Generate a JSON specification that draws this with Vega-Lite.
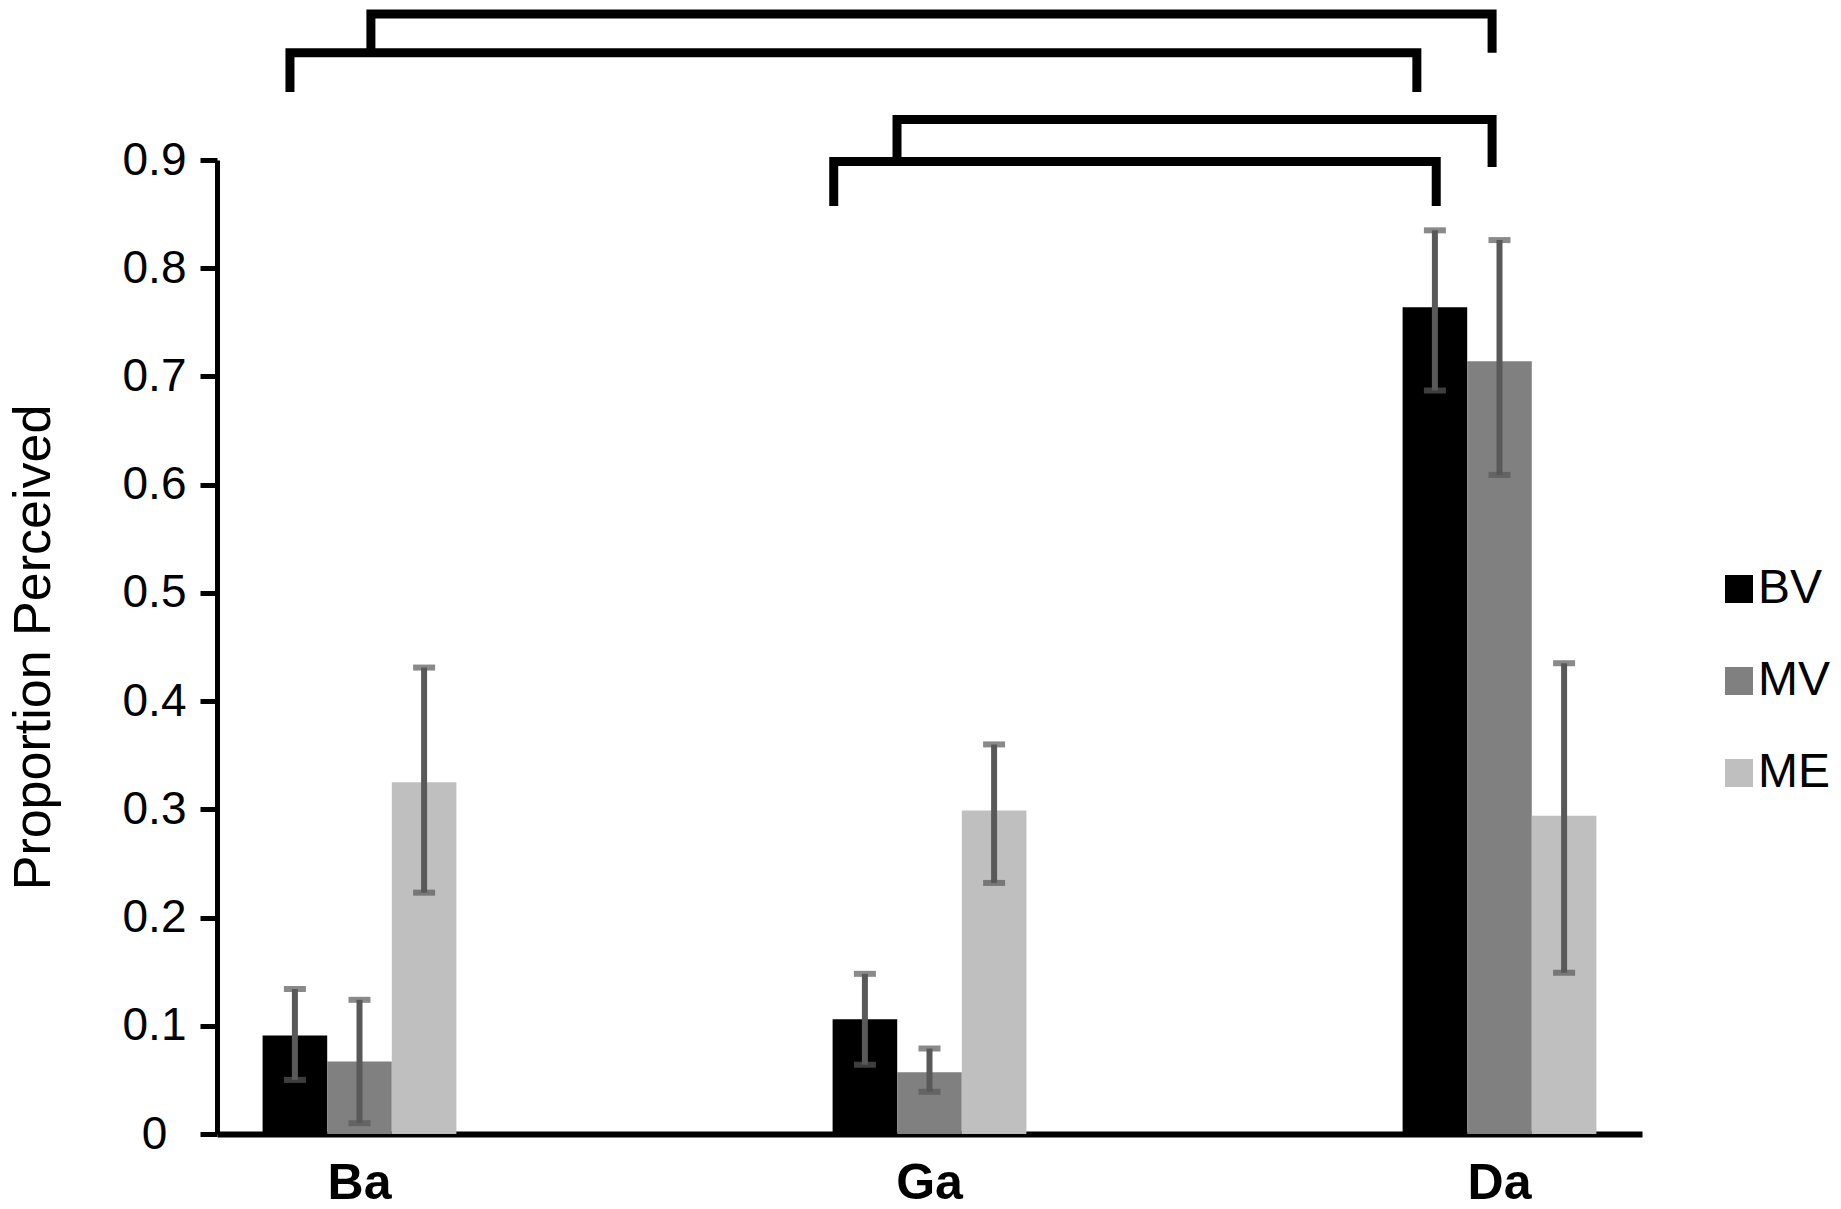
{
  "$schema": "https://vega.github.io/schema/vega-lite/v6.json",
  "width": 1425,
  "height": 974,
  "autosize": {"type": "none"},
  "padding": {"left": 217, "top": 160, "right": 199, "bottom": 75},
  "background": "white",
  "config": {
    "view": {"stroke": null},
    "font": "Liberation Sans",
    "axis": {"grid": false}
  },
  "datasets": {
    "bars": [
      {"cond": "Ba", "series": "BV", "value": 0.091, "lo": 0.050, "hi": 0.134},
      {"cond": "Ba", "series": "MV", "value": 0.067, "lo": 0.010, "hi": 0.124},
      {"cond": "Ba", "series": "ME", "value": 0.325, "lo": 0.223, "hi": 0.431},
      {"cond": "Ga", "series": "BV", "value": 0.106, "lo": 0.064, "hi": 0.148},
      {"cond": "Ga", "series": "MV", "value": 0.057, "lo": 0.039, "hi": 0.079},
      {"cond": "Ga", "series": "ME", "value": 0.299, "lo": 0.232, "hi": 0.360},
      {"cond": "Da", "series": "BV", "value": 0.764, "lo": 0.687, "hi": 0.835},
      {"cond": "Da", "series": "MV", "value": 0.714, "lo": 0.609, "hi": 0.826},
      {"cond": "Da", "series": "ME", "value": 0.294, "lo": 0.149, "hi": 0.435}
    ],
    "brackets": [
      {"b": "A", "ord": 1, "u": 0.020, "v": 0.999},
      {"b": "A", "ord": 2, "u": 0.020, "v": 1.035},
      {"b": "A", "ord": 3, "u": 1.987, "v": 1.035},
      {"b": "A", "ord": 4, "u": 1.987, "v": 0.999},
      {"b": "B", "ord": 1, "u": -0.122, "v": 0.9628},
      {"b": "B", "ord": 2, "u": -0.122, "v": 0.999},
      {"b": "B", "ord": 3, "u": 1.855, "v": 0.999},
      {"b": "B", "ord": 4, "u": 1.855, "v": 0.9628},
      {"b": "C", "ord": 1, "u": 0.943, "v": 0.8986},
      {"b": "C", "ord": 2, "u": 0.943, "v": 0.9374},
      {"b": "C", "ord": 3, "u": 1.987, "v": 0.9374},
      {"b": "C", "ord": 4, "u": 1.987, "v": 0.8936},
      {"b": "D", "ord": 1, "u": 0.832, "v": 0.8575},
      {"b": "D", "ord": 2, "u": 0.832, "v": 0.8986},
      {"b": "D", "ord": 3, "u": 1.889, "v": 0.8986},
      {"b": "D", "ord": 4, "u": 1.889, "v": 0.8575}
    ]
  },
  "layer": [
    {
      "data": {"name": "bars"},
      "encoding": {
        "x": {
          "field": "cond", "type": "nominal", "sort": ["Ba", "Ga", "Da"],
          "scale": {"paddingInner": 0.66, "paddingOuter": 0.08},
          "axis": {
            "title": null, "ticks": false, "labelAngle": 0,
            "labelFont": "Liberation Sans", "labelFontWeight": "bold", "labelFontSize": 50,
            "labelColor": "black", "labelPadding": 24,
            "domainColor": "black", "domainWidth": 6
          }
        },
        "xOffset": {"field": "series", "type": "nominal", "sort": ["BV", "MV", "ME"], "scale": {"paddingInner": 0, "paddingOuter": 0}}
      },
      "layer": [
        {
          "mark": {"type": "bar"},
          "encoding": {
            "y": {
              "field": "value", "type": "quantitative",
              "scale": {"domain": [0, 0.9], "nice": false, "zero": true},
              "axis": {
                "title": "Proportion Perceived", "values": [0, 0.1, 0.2, 0.3, 0.4, 0.5, 0.6, 0.7, 0.8, 0.9],
                "format": "~g", "labelFontSize": 46, "labelColor": "black", "labelFont": "Liberation Sans",
                "labelAlign": "center", "labelPadding": 46, "tickSize": 17, "tickWidth": 5, "tickColor": "black",
                "domainColor": "black", "domainWidth": 5,
                "titleFont": "Liberation Sans", "titleFontSize": 52, "titleFontWeight": "normal",
                "titleColor": "black", "titlePadding": 62
              }
            },
            "color": {
              "field": "series", "type": "nominal", "sort": ["BV", "MV", "ME"],
              "scale": {"domain": ["BV", "MV", "ME"], "range": ["#000000", "#808080", "#bfbfbf"]},
              "legend": {
                "title": null, "orient": "none", "legendX": 1498, "legendY": 405,
                "symbolType": "square", "symbolSize": 784, "symbolStrokeWidth": 0,
                "labelFontSize": 48, "labelFont": "Liberation Sans", "labelColor": "black",
                "labelOffset": -5, "rowPadding": 44, "padding": 0
              }
            }
          }
        },
        {
          "mark": {"type": "rule", "color": "#595959", "strokeWidth": 6},
          "encoding": {
            "y": {"field": "lo", "type": "quantitative"},
            "y2": {"field": "hi"}
          }
        },
        {
          "mark": {"type": "tick", "color": "#595959", "size": 22, "thickness": 6},
          "encoding": {"y": {"field": "hi", "type": "quantitative"}}
        },
        {
          "mark": {"type": "tick", "color": "#595959", "size": 22, "thickness": 6},
          "encoding": {"y": {"field": "lo", "type": "quantitative"}}
        }
      ]
    },
    {
      "data": {"name": "brackets"},
      "mark": {"type": "line", "color": "black", "strokeWidth": 9, "strokeJoin": "miter", "strokeCap": "butt"},
      "encoding": {
        "x": {"field": "u", "type": "quantitative", "scale": {"domain": [-0.25, 2.25], "nice": false, "zero": false}, "axis": null},
        "y": {"field": "v", "type": "quantitative", "scale": {"domain": [0, 0.9], "nice": false}},
        "detail": {"field": "b"},
        "order": {"field": "ord"}
      }
    }
  ],
  "resolve": {"scale": {"x": "independent"}, "axis": {"x": "independent"}}
}
